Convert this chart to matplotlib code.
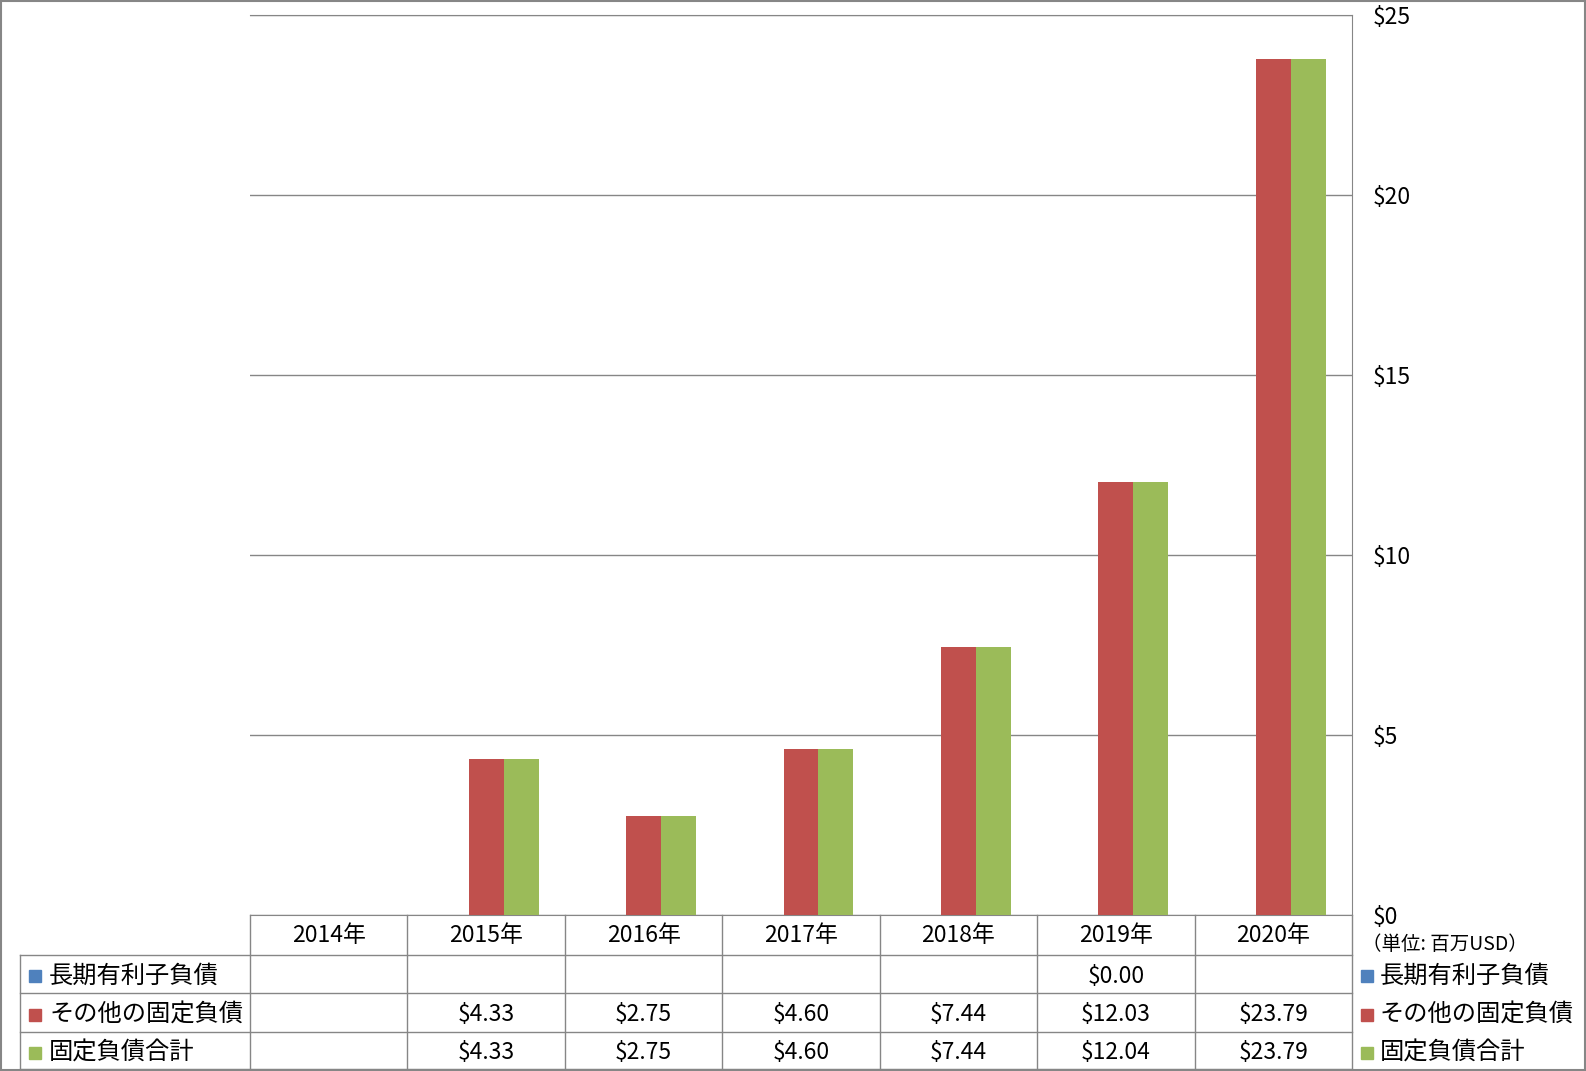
import numpy as np
import matplotlib
matplotlib.use("Agg")
import matplotlib.pyplot as plt
import matplotlib.transforms as mtransforms
from matplotlib.lines import Line2D
from matplotlib.patches import Rectangle

plt.rcParams['font.family'] = ['Noto Sans CJK JP', 'DejaVu Sans']

years = ["2014年", "2015年", "2016年", "2017年", "2018年", "2019年", "2020年"]
series_names = ["長期有利子負債", "その他の固定負債", "固定負債合計"]
long_term_debt = [np.nan, np.nan, np.nan, np.nan, np.nan, 0.004, np.nan]
other_fixed = [np.nan, 4.33, 2.75, 4.60, 7.44, 12.03, 23.79]
total_fixed = [np.nan, 4.33, 2.75, 4.60, 7.44, 12.04, 23.79]
colors = ["#4F81BD", "#C0504D", "#9BBB59"]
yticks = [0, 5, 10, 15, 20, 25]

W, H = 1586, 1071
fig = plt.figure(figsize=(W / 100, H / 100), dpi=100)

def fx(px):
    return px / W

def fy(py):
    return 1 - py / H

# plot area in pixels
left, right, top, bottom = 250, 1352, 15, 915
ax = fig.add_axes([fx(left), fy(bottom), fx(right - left), (bottom - top) / H])

x = np.arange(len(years))
bw = 1 / 4.5
for i, vals in enumerate([long_term_debt, other_fixed, total_fixed]):
    ax.bar(x + (i - 1) * bw, vals, width=bw, color=colors[i], zorder=3)

ax.set_xlim(-0.5, len(years) - 0.5)
ax.set_ylim(0, 25)
ax.set_yticks(yticks)
ax.set_yticklabels(["$" + str(t) for t in yticks], fontsize=16.5)
ax.yaxis.tick_right()
ax.tick_params(axis='y', length=0, pad=15)
for lab in ax.get_yticklabels():
    lab.set_horizontalalignment('left')
ax.set_xticks([])
ax.grid(axis='y', color='#868686', linewidth=1, zorder=0)
ax.spines['left'].set_visible(False)
for s in ['right', 'bottom', 'top']:
    ax.spines[s].set_color('#868686')

fig.text(fx(1362), fy(944), "（単位: 百万USD）", fontsize=14, ha='left', va='center')

# data table under the chart
blend = mtransforms.blended_transform_factory(ax.transData, fig.transFigure)
line_c = '#868686'
row_y = [915, 955, 993, 1032, 1069]
# horizontal lines
for ry in row_y[1:]:
    fig.add_artist(Line2D([fx(20), fx(right)], [fy(ry)] * 2, color=line_c, lw=1))
# vertical lines
for b in np.arange(len(years) + 1) - 0.5:
    fig.add_artist(Line2D([b, b], [fy(row_y[0]), fy(row_y[4])], color=line_c, lw=1, transform=blend))
fig.add_artist(Line2D([fx(20), fx(20)], [fy(row_y[1]), fy(row_y[4])], color=line_c, lw=1))

# header
for i, y in enumerate(years):
    fig.text(i, fy((row_y[0] + row_y[1]) / 2 + 1), y, transform=blend, ha='center', va='center', fontsize=16.5)

# rows
all_vals = [long_term_debt, other_fixed, total_fixed]
for r, vals in enumerate(all_vals):
    yc = fy((row_y[r + 1] + row_y[r + 2]) / 2 + 2)
    fig.add_artist(Rectangle((fx(29), yc - 6 / H), 12 / W, 12 / H, color=colors[r], transform=fig.transFigure))
    fig.text(fx(49), yc, series_names[r], fontsize=17.5, ha='left', va='center')
    for i, v in enumerate(vals):
        if not np.isnan(v):
            fig.text(i, yc, "$%.2f" % v, transform=blend, ha='center', va='center', fontsize=16.5)

# legend on the right
for r in range(3):
    yc = fy((row_y[r + 1] + row_y[r + 2]) / 2 + 2)
    fig.add_artist(Rectangle((fx(1361), yc - 6 / H), 12 / W, 12 / H, color=colors[r], transform=fig.transFigure))
    fig.text(fx(1380), yc, series_names[r], fontsize=17.5, ha='left', va='center')

# outer border
fig.add_artist(Rectangle((0.0005, 0.0005), 0.999, 0.999, fill=False, edgecolor=line_c, lw=1.5, transform=fig.transFigure))

fig.savefig("out.png", dpi=100)
